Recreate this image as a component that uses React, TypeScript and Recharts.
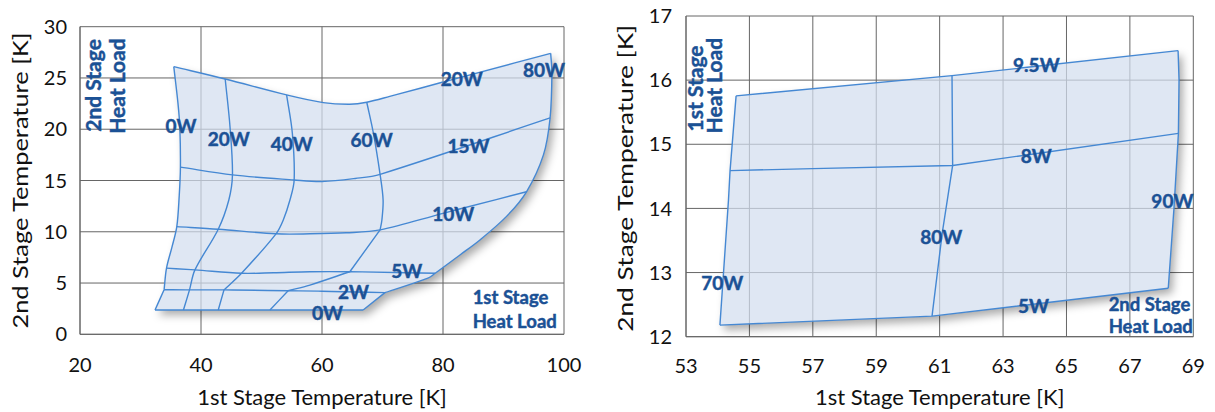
import React from 'react';
import { ScatterChart, Scatter, XAxis, YAxis, CartesianGrid } from 'recharts';

type P = [number, number];
type L = { x: number; y: number; text: string };

const FONT = 'Lato, "Open Sans", sans-serif';
const LINE = '#4588d3';
const LABEL = '#1b5195';
const GRID = '#666666';

// ---------------- left chart ----------------
const leftXTicks = [20, 40, 60, 80, 100];
const leftYTicks = [0, 5, 10, 15, 20, 25, 30];

// 2nd stage heat load lines
const left2nd20W: P[] = [[35.5, 26.1], [44.0, 24.9], [54.15, 23.35], [60.2, 22.6], [64.6, 22.44], [67.4, 22.63], [71.2, 23.2], [80, 24.6], [97.8, 27.4]];
const left2nd15W: P[] = [[36.6, 16.3], [45.2, 15.55], [55.4, 15.05], [60, 14.9], [65.5, 15.2], [69.6, 15.6], [97.7, 21.1]];
const left2nd10W: P[] = [[36.0, 10.5], [42.85, 10.25], [52.4, 9.8], [58.0, 9.8], [64, 9.9], [69.6, 10.18], [80, 11.8], [93.8, 13.9]];
const left2nd5W: P[] = [[34.3, 6.45], [39.0, 6.28], [46.7, 5.95], [52, 6.0], [58.0, 6.1], [64.6, 6.1], [78.7, 5.95]];
const left2nd2W: P[] = [[33.9, 4.35], [38.1, 4.33], [43.8, 4.33], [54.4, 4.25], [60, 4.2], [70.4, 4.06]];
const left2nd0W: P[] = [[32.4, 2.37], [66.8, 2.37]];
// 1st stage heat load lines
const left1st0W: P[] = [[35.5, 26.1], [36.2, 22.5], [36.5, 20.2], [36.6, 16.3], [36.4, 13.5], [36.0, 10.5], [35.2, 8.5], [34.3, 6.45], [33.9, 4.35], [32.4, 2.37]];
const left1st20W: P[] = [[44.0, 24.9], [44.8, 20.2], [45.2, 15.55], [44.6, 13.1], [42.85, 10.25], [39.0, 6.28], [38.1, 4.33], [37.1, 2.37]];
const left1st40W: P[] = [[54.15, 23.35], [55.1, 19.6], [55.4, 15.05], [54.7, 13.1], [53.6, 11.15], [52.4, 9.8], [46.7, 5.95], [43.8, 4.33], [42.85, 2.37]];
const left1st60W: P[] = [[67.4, 22.63], [68.5, 19.6], [69.6, 15.6], [70.1, 13.1], [69.9, 11.15], [69.6, 10.18], [64.6, 6.1], [58.0, 4.8], [54.4, 4.25], [51.4, 2.37]];
const left1st80W: P[] = [[97.8, 27.4], [98.0, 25.5], [97.7, 21.1], [96.6, 17.5], [93.8, 13.9], [90.5, 11.5], [86.1, 9.2], [82.8, 7.74], [78.7, 5.95], [77.6, 5.5], [70.4, 4.06], [66.8, 2.37]];

const leftLoadLabels: L[] = [
  { x: 36.7, y: 20.4, text: '0W' },
  { x: 44.6, y: 19.05, text: '20W' },
  { x: 55.0, y: 18.6, text: '40W' },
  { x: 68.2, y: 19.0, text: '60W' },
  { x: 96.7, y: 25.8, text: '80W' },
  { x: 83.1, y: 24.9, text: '20W' },
  { x: 84.2, y: 18.37, text: '15W' },
  { x: 81.7, y: 11.74, text: '10W' },
  { x: 74.0, y: 6.18, text: '5W' },
  { x: 65.2, y: 4.13, text: '2W' },
  { x: 60.9, y: 2.13, text: '0W' },
];
const leftNotes: L[] = [
  { x: 84.9, y: 3.64, text: '1st Stage' },
  { x: 84.9, y: 1.3, text: 'Heat Load' },
];
const leftRotNotes: L[] = [
  { x: 22.15, y: 19.75, text: '2nd Stage' },
  { x: 26.1, y: 19.55, text: 'Heat Load' },
];

// ---------------- right chart ----------------
const rightXTicks = [53, 55, 57, 59, 61, 63, 65, 67, 69];
const rightYTicks = [12, 13, 14, 15, 16, 17];

const right2nd95W: P[] = [[54.58, 15.755], [61.39, 16.07], [68.52, 16.46]];
const right2nd8W: P[] = [[54.39, 14.59], [57, 14.62], [61.41, 14.67], [68.53, 15.17]];
const right2nd5W: P[] = [[54.07, 12.18], [60.76, 12.32], [68.21, 12.755]];
const right1st70W: P[] = [[54.58, 15.755], [54.39, 14.59], [54.34, 14.13], [54.07, 12.18]];
const right1st80W: P[] = [[61.39, 16.07], [61.41, 14.67], [61.08, 13.61], [60.76, 12.32]];
const right1st90W: P[] = [[68.52, 16.46], [68.55, 16.0], [68.53, 15.17], [68.39, 14.0], [68.21, 12.755]];

const rightLoadLabels: L[] = [
  { x: 64.05, y: 16.24, text: '9.5W' },
  { x: 64.05, y: 14.83, text: '8W' },
  { x: 68.34, y: 14.13, text: '90W' },
  { x: 61.05, y: 13.56, text: '80W' },
  { x: 63.96, y: 12.48, text: '5W' },
  { x: 54.14, y: 12.85, text: '70W' },
];
const rightNotes: L[] = [
  { x: 66.33, y: 12.51, text: '2nd Stage' },
  { x: 66.33, y: 12.17, text: 'Heat Load' },
];
const rightRotNotes: L[] = [
  { x: 53.28, y: 15.2, text: '1st Stage' },
  { x: 53.87, y: 15.17, text: 'Heat Load' },
];

// ---------------- helpers ----------------
const xy = (pts: P[]) => pts.map(([x, y]) => ({ x, y }));
const rev = (pts: P[]) => [...pts].reverse();

const noShape = () => <g />;

type Q = { x: number; y: number };

const unit = (dx: number, dy: number) => {
  const l = Math.hypot(dx, dy) || 1;
  return { x: dx / l, y: dy / l };
};

const CORNER = (17 * Math.PI) / 180;

// path through pixel points; smoothed with chord-scaled tangents, sharp turns kept as corners
const pathThrough = (pts: Q[], smoothOn: boolean, move = true): string => {
  if (!pts.length) return '';
  let d = move ? `M${pts[0].x},${pts[0].y}` : `L${pts[0].x},${pts[0].y}`;
  const n = pts.length;
  if (!smoothOn) {
    for (let i = 1; i < n; i++) d += ` L${pts[i].x},${pts[i].y}`;
    return d;
  }
  // tangent leaving (out) and arriving (in) at each point
  const tin: Q[] = [];
  const tout: Q[] = [];
  for (let i = 0; i < n; i++) {
    const a = pts[Math.max(0, i - 1)];
    const b = pts[Math.min(n - 1, i + 1)];
    const p = pts[i];
    const t = unit(b.x - a.x, b.y - a.y);
    if (i > 0 && i < n - 1) {
      const u1 = unit(p.x - a.x, p.y - a.y);
      const u2 = unit(b.x - p.x, b.y - p.y);
      const ang = Math.acos(Math.max(-1, Math.min(1, u1.x * u2.x + u1.y * u2.y)));
      if (ang > CORNER) {
        tin.push(u1);
        tout.push(u2);
        continue;
      }
    }
    tin.push(t);
    tout.push(t);
  }
  for (let i = 0; i < n - 1; i++) {
    const p1 = pts[i];
    const p2 = pts[i + 1];
    const len = Math.hypot(p2.x - p1.x, p2.y - p1.y) / 3;
    d += ` C${p1.x + tout[i].x * len},${p1.y + tout[i].y * len} ${p2.x - tin[i + 1].x * len},${p2.y - tin[i + 1].y * len} ${p2.x},${p2.y}`;
  }
  return d;
};

// polygon path built edge by edge
const edgesPath = (pts: Q[], sizes: number[], smoothOn: boolean) => {
  let d = '';
  let k = 0;
  sizes.forEach((n, i) => {
    d += (i ? ' ' : '') + pathThrough(pts.slice(k, k + n), smoothOn, i === 0);
    k += n;
  });
  return d + ' Z';
};

const shadowLine = (id: string, sizes: number[], smoothOn: boolean) => (p: any) => (
  <g>
    <defs>
      <filter id={id} x="-20%" y="-20%" width="140%" height="140%">
        <feGaussianBlur in="SourceAlpha" stdDeviation="4" result="b" />
        <feOffset in="b" dx="4" dy="5" result="o" />
        <feComposite in="o" in2="SourceAlpha" operator="out" result="s" />
        <feColorMatrix in="s" type="matrix" values="0 0 0 0 0  0 0 0 0 0  0 0 0 0 0  0 0 0 0.33 0" />
      </filter>
    </defs>
    <path d={edgesPath(p.points || [], sizes, smoothOn)} fill="#000" filter={`url(#${id})`} />
  </g>
);

const fillLine = (sizes: number[], smoothOn: boolean) => (p: any) => (
  <path d={edgesPath(p.points || [], sizes, smoothOn)} fill="#d3deee" fillOpacity={0.72} stroke="none" />
);

const strokeLine = (smoothOn: boolean) => (p: any) => (
  <path d={pathThrough(p.points || [], smoothOn)} fill="none" stroke={LINE} strokeWidth={1.4} strokeLinejoin="round" />
);

const labelFont = { fontFamily: FONT, fontWeight: 700, fill: LABEL, stroke: LABEL, strokeWidth: 0.45 };

const loadLabel = (p: any) => (
  <text x={p.cx} y={p.cy} textAnchor="middle" dominantBaseline="central" fontSize={19} {...labelFont}>{p.payload.text}</text>
);
const noteLabel = (p: any) => (
  <text x={p.cx} y={p.cy} textAnchor="start" dominantBaseline="central" fontSize={18.5} {...labelFont}>{p.payload.text}</text>
);
const rotLabel = (p: any) => (
  <text x={p.cx} y={p.cy} textAnchor="start" dominantBaseline="central" fontSize={21} {...labelFont}
    transform={`rotate(-90 ${p.cx} ${p.cy})`}>{p.payload.text}</text>
);

const YTitle = (props: any) => {
  const vb = props.viewBox || { x: props.fx, y: props.fy, width: 60, height: 300 };
  const cx = vb.x + props.dx;
  const cy = vb.y + vb.height / 2 + props.dy;
  return (
    <text x={cx} y={cy} textAnchor="middle" dominantBaseline="central" fill="#111"
      fontFamily={FONT} fontSize={22} textLength={props.len} lengthAdjust="spacingAndGlyphs"
      transform={`rotate(-90 ${cx} ${cy})`}>{props.text}</text>
  );
};

const tickStyle = { fontSize: 20, fill: '#111', fontFamily: FONT };

function LeftChart() {
  const edges = [left2nd20W, left1st80W, rev(left2nd0W), rev(left1st0W)];
  const polygon = edges.flat() as P[];
  const sizes = edges.map((e) => e.length);
  const lines = [left2nd20W, left2nd15W, left2nd10W, left2nd5W, left2nd2W, left2nd0W, left1st0W, left1st20W, left1st40W, left1st60W, left1st80W];
  return (
    <ScatterChart width={610} height={412} margin={{ top: 26.7, right: 46, bottom: 2.7, left: 20 }}>
      <CartesianGrid stroke={GRID} strokeWidth={1} />
      <XAxis type="number" dataKey="x" domain={[20, 100]} ticks={leftXTicks} interval={0}
        tickLine={false} tickSize={0} tickMargin={23} height={75} axisLine={{ stroke: GRID }} tick={tickStyle}
        label={{ value: '1st Stage Temperature [K]', position: 'insideBottom', offset: 4.3, fontSize: 22, fill: '#111', fontFamily: FONT }} />
      <YAxis type="number" dataKey="y" domain={[0, 30]} ticks={leftYTicks} interval={0}
        tickLine={false} tickSize={0} tickMargin={13} width={60} axisLine={{ stroke: GRID }} tick={tickStyle}
        label={<YTitle text="2nd Stage Temperature [K]" len={296} dx={-0.5} dy={0} fx={20} fy={26.7} />} />
      <Scatter data={xy(polygon)} shape={noShape} line={shadowLine('shadowL', sizes, true)} isAnimationActive={false} />
      <Scatter data={xy(polygon)} shape={noShape} line={fillLine(sizes, true)} isAnimationActive={false} />
      {lines.map((l, i) => (
        <Scatter key={i} data={xy(l)} shape={noShape} line={strokeLine(true)} isAnimationActive={false} />
      ))}
      <Scatter data={leftLoadLabels} shape={loadLabel} isAnimationActive={false} />
      <Scatter data={leftNotes} shape={noteLabel} isAnimationActive={false} />
      <Scatter data={leftRotNotes} shape={rotLabel} isAnimationActive={false} />
    </ScatterChart>
  );
}

function RightChart() {
  const edges = [right2nd95W, right1st90W, rev(right2nd5W), rev(right1st70W)];
  const polygon = edges.flat() as P[];
  const sizes = edges.map((e) => e.length);
  const lines = [right2nd95W, right2nd8W, right2nd5W, right1st70W, right1st80W, right1st90W];
  return (
    <ScatterChart width={605} height={412} margin={{ top: 16, right: 21.7, bottom: 2.3, left: 16 }}>
      <CartesianGrid stroke={GRID} strokeWidth={1} />
      <XAxis type="number" dataKey="x" domain={[53, 69]} ticks={rightXTicks} interval={0}
        tickLine={false} tickSize={0} tickMargin={22} height={73} axisLine={{ stroke: GRID }} tick={tickStyle}
        label={{ value: '1st Stage Temperature [K]', position: 'insideBottom', offset: 4.7, fontSize: 22, fill: '#111', fontFamily: FONT }} />
      <YAxis type="number" dataKey="y" domain={[12, 17]} ticks={rightYTicks} interval={0}
        tickLine={false} tickSize={0} tickMargin={14} width={60} axisLine={{ stroke: GRID }} tick={tickStyle}
        label={<YTitle text="2nd Stage Temperature [K]" len={307} dx={-1} dy={2} fx={16} fy={16} />} />
      <Scatter data={xy(polygon)} shape={noShape} line={shadowLine('shadowR', sizes, false)} isAnimationActive={false} />
      <Scatter data={xy(polygon)} shape={noShape} line={fillLine(sizes, false)} isAnimationActive={false} />
      {lines.map((l, i) => (
        <Scatter key={i} data={xy(l)} shape={noShape} line={strokeLine(false)} isAnimationActive={false} />
      ))}
      <Scatter data={rightLoadLabels} shape={loadLabel} isAnimationActive={false} />
      <Scatter data={rightNotes} shape={noteLabel} isAnimationActive={false} />
      <Scatter data={rightRotNotes} shape={rotLabel} isAnimationActive={false} />
    </ScatterChart>
  );
}

export default function App() {
  return (
    <div style={{ position: 'absolute', left: 0, top: 0, width: 1215, height: 412, background: '#fff', fontFamily: FONT }}>
      <div style={{ position: 'absolute', left: 0, top: 0 }}>
        <LeftChart />
      </div>
      <div style={{ position: 'absolute', left: 610, top: 0 }}>
        <RightChart />
      </div>
    </div>
  );
}
